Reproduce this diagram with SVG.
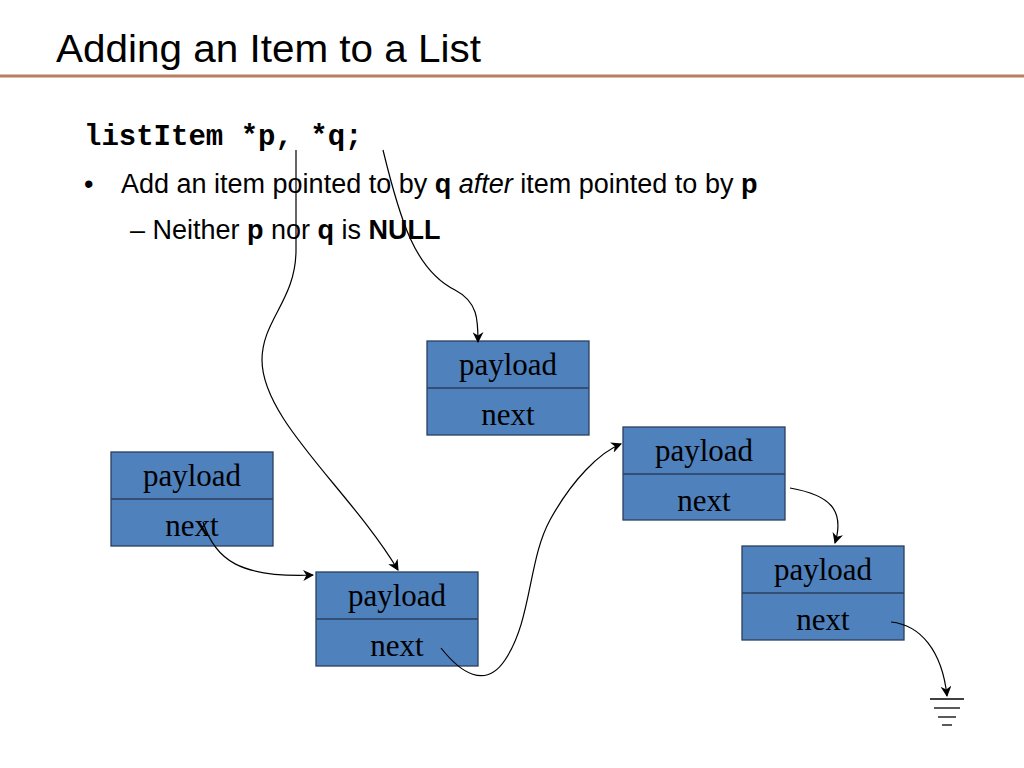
<svg xmlns="http://www.w3.org/2000/svg" width="1024" height="768" viewBox="0 0 1024 768">
<defs>
<style>
.box{fill:#4f81bd;stroke:#2a3f5f;stroke-width:1.3}
.lbl{font-family:"Liberation Serif",serif;font-size:31px;fill:#000;text-anchor:middle}
.c{fill:none;stroke:#000;stroke-width:1.2}
.t{font-family:"Liberation Sans",sans-serif;font-size:27px;fill:#000}
</style>
<marker id="ah" viewBox="0 0 10 10" refX="9" refY="5" markerWidth="11" markerHeight="11" markerUnits="userSpaceOnUse" orient="auto"><path d="M0,0 L10,5 L0,10 L3,5 Z" fill="#000"/></marker>
</defs>
<rect width="1024" height="768" fill="#fff"/>
<text x="56" y="62" font-family="Liberation Sans,sans-serif" font-size="38" textLength="425" lengthAdjust="spacingAndGlyphs">Adding an Item to a List</text>
<line x1="0" y1="76" x2="1024" y2="76" stroke="#b8805f" stroke-width="3"/>
<text x="84" y="145" font-family="Liberation Mono,monospace" font-weight="bold" font-size="29">listItem *p, *q;</text>
<text class="t" x="84" y="193">•</text>
<text class="t" x="121" y="193">Add an item pointed to by <tspan font-weight="bold">q</tspan> <tspan font-style="italic">after</tspan> item pointed to by <tspan font-weight="bold">p</tspan></text>
<text class="t" x="130" y="239">– Neither <tspan font-weight="bold">p</tspan> nor <tspan font-weight="bold">q</tspan> is <tspan font-weight="bold">NULL</tspan></text>
<g id="n1"><rect class="box" x="427" y="341" width="162" height="94"/><line class="box" x1="427" y1="388" x2="589" y2="388"/><text class="lbl" x="508" y="375">payload</text><text class="lbl" x="508" y="425">next</text></g>
<g id="n2"><rect class="box" x="623" y="427" width="162" height="93"/><line class="box" x1="623" y1="474" x2="785" y2="474"/><text class="lbl" x="704" y="461">payload</text><text class="lbl" x="704" y="511">next</text></g>
<g id="n3"><rect class="box" x="742" y="546" width="162" height="94"/><line class="box" x1="742" y1="593" x2="904" y2="593"/><text class="lbl" x="823" y="580">payload</text><text class="lbl" x="823" y="630">next</text></g>
<g id="n4"><rect class="box" x="111" y="452" width="162" height="94"/><line class="box" x1="111" y1="499" x2="273" y2="499"/><text class="lbl" x="192" y="486">payload</text><text class="lbl" x="192" y="536">next</text></g>
<g id="n5"><rect class="box" x="316" y="572" width="162" height="94"/><line class="box" x1="316" y1="619" x2="478" y2="619"/><text class="lbl" x="397" y="606">payload</text><text class="lbl" x="397" y="656">next</text></g>
<g id="ground" stroke="#000" stroke-width="1.3"><line x1="930" y1="699" x2="964" y2="699"/><line x1="934" y1="708" x2="960" y2="708"/><line x1="938" y1="717" x2="956" y2="717"/><line x1="942" y1="725" x2="952" y2="725"/></g>
<g id="connectors">
<path class="c" marker-end="url(#ah)" d="M296,150 L296,250 C296,300 262,320 262,360 C262,420 350,490 398,570"/>
<path class="c" marker-end="url(#ah)" d="M383,150 C400,220 415,270 455,290 C478,302 478,320 478,342"/>
<path class="c" marker-end="url(#ah)" d="M203,522 C215,560 240,578 313,575"/>
<path class="c" marker-end="url(#ah)" d="M441,648 C460,672 485,690 505,660 C532,620 528,560 550,520 C572,480 600,452 621,444"/>
<path class="c" marker-end="url(#ah)" d="M790,488 C830,495 845,510 835,543"/>
<path class="c" marker-end="url(#ah)" d="M891,622 C920,625 942,650 947,696"/>
</g>
</svg>
